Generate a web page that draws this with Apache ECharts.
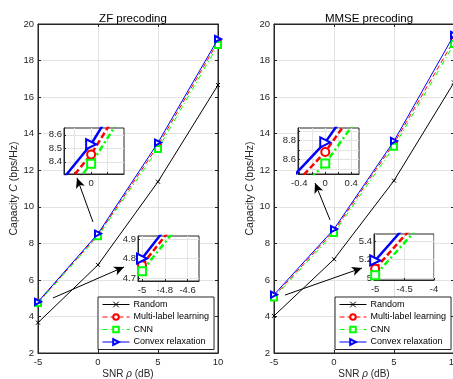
<!DOCTYPE html>
<html>
<head>
<meta charset="utf-8">
<script src="https://cdn.jsdelivr.net/npm/echarts@6/dist/echarts.min.js"></script>
<style>
  html, body { margin: 0; padding: 0; background: #fff; }
  #chart { width: 453px; height: 379px; }
</style>
</head>
<body>
<div id="chart"></div>
<script>
// SNR points (dB)
var snr = [-5, 0, 5, 10];
var seriesNames = ['Random', 'Multi-label learning', 'CNN', 'Convex relaxation'];

// ZF precoding capacity (bps/Hz)
var zfRandom = [3.66, 6.82, 11.37, 16.66];
var zfMulti = [4.766, 8.455, 13.35, 19.03];
var zfCnn = [4.735, 8.385, 13.16, 18.85];
var zfConvex = [4.8, 8.53, 13.51, 19.18];

// MMSE precoding capacity (bps/Hz)
var mmseRandom = [4.03, 7.13, 11.43, 16.8];
var mmseMulti = [5.10, 8.68, 13.47, 19.1];
var mmseCnn = [5.03, 8.56, 13.29, 18.9];
var mmseConvex = [5.19, 8.78, 13.6, 19.4];

// zoom windows: [xmin, xmax, ymin, ymax], tick values, labelled values
var zfZoomA = { range: [-0.33, 0.4, 8.31, 8.65], xt: [-0.2, 0, 0.2], xl: [0], yt: [8.4, 8.5, 8.6], yl: [8.4, 8.5, 8.6] };
var zfZoomB = { range: [-5.035, -4.5, 4.685, 4.915], xt: [-5, -4.8, -4.6], xl: [-5, -4.8, -4.6], yt: [4.7, 4.8, 4.9], yl: [4.7, 4.8, 4.9] };
var mmseZoomA = { range: [-0.42, 0.52, 8.45, 8.93], xt: [-0.4, -0.2, 0, 0.2, 0.4], xl: [-0.4, 0, 0.4], yt: [8.5, 8.6, 8.7, 8.8, 8.9], yl: [8.6, 8.8] };
var mmseZoomB = { range: [-5.02, -4, 4.98, 5.475], xt: [-5, -4.5, -4], xl: [-5, -4.5, -4], yt: [5, 5.2, 5.4], yl: [5, 5.2, 5.4] };

// annotation arrows [x1, y1, x2, y2] in data units
var zfArrows = [[-0.42, 9.17, -1.75, 11.58], [-3.75, 5.01, 2.17, 6.71]];
var mmseArrows = [[-0.33, 9.28, -1.58, 11.3], [-4.08, 5.17, 2.33, 6.65]];

var font = 'Liberation Sans, Arial, sans-serif';
var axisColor = '#262626';
var gridColor = '#e3e3e3';

function pts(vals) {
  return snr.map(function (x, i) { return [x, vals[i]]; });
}

var styles = [
  { color: '#000000', type: 'solid', symbol: 'path://M0,0L10,10M10,0L0,10', rotate: 0 },
  { color: '#ff0000', type: [5, 3], symbol: 'emptyCircle', rotate: 0 },
  { color: '#00ff00', type: [5, 3, 1, 3], symbol: 'emptyRect', rotate: 0 },
  { color: '#0000ff', type: 'solid', symbol: 'emptyTriangle', rotate: -90 }
];

function mainSeries(idx, sets, arrows) {
  return sets.map(function (vals, k) {
    var st = styles[k];
    var s = {
      name: seriesNames[k],
      type: 'line',
      xAxisIndex: idx,
      yAxisIndex: idx,
      data: pts(vals),
      symbol: st.symbol,
      symbolRotate: st.rotate,
      symbolSize: k === 0 ? 4 : 6,
      lineStyle: { color: st.color, width: 1, type: st.type },
      itemStyle: { color: st.color, borderColor: st.color, borderWidth: 1 },
      z: 3 + (k === 3 ? 1 : 0)
    };
    if (k === 0) {
      s.markLine = {
        silent: true,
        symbol: ['none', 'arrow'],
        symbolSize: [7, 10],
        label: { show: false },
        lineStyle: { color: '#000', width: 1, type: 'solid' },
        data: arrows.map(function (a) {
          return [{ coord: [a[0], a[1]] }, { coord: [a[2], a[3]] }];
        })
      };
    }
    return s;
  });
}

function insetSeries(idx, sets) {
  var out = [];
  sets.forEach(function (vals, j) {
    var k = j + 1;
    var st = styles[k];
    var dash = k === 1 ? [6, 3] : (k === 2 ? [6, 3, 2, 3] : 'solid');
    out.push({
      name: seriesNames[k] + ' ',
      type: 'line',
      xAxisIndex: idx,
      yAxisIndex: idx,
      data: pts(vals),
      clip: true,
      symbol: st.symbol,
      symbolRotate: st.rotate,
      symbolSize: k === 3 ? 10 : 8,
      lineStyle: { color: st.color, width: 2.5, type: dash },
      itemStyle: { color: st.color, borderColor: st.color, borderWidth: 2 },
      z: 12
    });
  });
  return out;
}

var mainGrids = [
  { left: 38, right: 235, top: 24, bottom: 26 },
  { left: 274, right: -1, top: 24, bottom: 26 }
];
var insetGrids = [
  { left: 64, top: 128, width: 60, height: 46 },
  { left: 138, top: 236, width: 61, height: 45 },
  { left: 298, top: 128, width: 61, height: 46 },
  { left: 374, top: 234, width: 60, height: 46 }
];
var zooms = [zfZoomA, zfZoomB, mmseZoomA, mmseZoomB];

var grids = [];
mainGrids.forEach(function (g) {
  grids.push(Object.assign({ show: true, borderColor: axisColor, borderWidth: 1, backgroundColor: '#fff',
    containLabel: false, outerBoundsMode: 'none' }, g));
});
insetGrids.forEach(function (g) {
  grids.push(Object.assign({ show: true, borderColor: axisColor, borderWidth: 1, backgroundColor: '#fff', z: 10,
    containLabel: false, outerBoundsMode: 'none' }, g));
});

var labelStyle = { color: axisColor, fontSize: 9.5, fontFamily: font };
var xAxes = [];
var yAxes = [];

[0, 1].forEach(function (i) {
  xAxes.push({
    type: 'value', gridIndex: i, min: -5, max: 10, interval: 5,
    name: '{a|SNR }{i|ρ}{a| (dB)}', nameLocation: 'middle', nameGap: 16, nameMoveOverlap: false,
    nameTextStyle: { rich: {
      a: { fontSize: 10, color: axisColor, fontFamily: font },
      i: { fontSize: 10, color: axisColor, fontFamily: font, fontStyle: 'italic' }
    } },
    axisLine: { onZero: false, lineStyle: { color: axisColor } },
    axisTick: { inside: true, length: 3, lineStyle: { color: axisColor } },
    axisLabel: Object.assign({ margin: 4 }, labelStyle),
    splitLine: { show: true, lineStyle: { color: gridColor } }
  });
  yAxes.push({
    type: 'value', gridIndex: i, min: 2, max: 20, interval: 2,
    name: '{a|Capacity }{i|C}{a| (bps/Hz)}', nameLocation: 'middle', nameGap: 18, nameMoveOverlap: false,
    nameTextStyle: { rich: {
      a: { fontSize: 10.5, color: axisColor, fontFamily: font },
      i: { fontSize: 10.5, color: axisColor, fontFamily: font, fontStyle: 'italic' }
    } },
    axisLine: { onZero: false, lineStyle: { color: axisColor } },
    axisTick: { inside: true, length: 3, lineStyle: { color: axisColor } },
    axisLabel: Object.assign({ margin: 4 }, labelStyle),
    splitLine: { show: true, lineStyle: { color: gridColor } }
  });
});

zooms.forEach(function (zm, j) {
  var gi = j + 2;
  xAxes.push({
    type: 'value', gridIndex: gi, min: zm.range[0], max: zm.range[1], z: 11,
    axisLine: { onZero: false, lineStyle: { color: axisColor } },
    axisTick: { inside: true, length: 2, customValues: zm.xt, lineStyle: { color: axisColor } },
    axisLabel: Object.assign({ margin: 4, customValues: zm.xl }, labelStyle),
    splitLine: { show: true, lineStyle: { color: gridColor } }
  });
  yAxes.push({
    type: 'value', gridIndex: gi, min: zm.range[2], max: zm.range[3], z: 11,
    axisLine: { onZero: false, lineStyle: { color: axisColor } },
    axisTick: { inside: true, length: 2, customValues: zm.yt, lineStyle: { color: axisColor } },
    axisLabel: Object.assign({ margin: 2, customValues: zm.yl }, labelStyle),
    splitLine: { show: true, lineStyle: { color: gridColor } }
  });
});

// mirrored ticks on top / right of the main plots
[0, 1].forEach(function (i) {
  xAxes.push({
    type: 'value', gridIndex: i, position: 'top', min: -5, max: 10, interval: 5,
    axisLine: { onZero: false, lineStyle: { color: axisColor } },
    axisTick: { inside: true, length: 3, lineStyle: { color: axisColor } },
    axisLabel: { show: false }, splitLine: { show: false }
  });
  yAxes.push({
    type: 'value', gridIndex: i, position: 'right', min: 2, max: 20, interval: 2,
    axisLine: { onZero: false, lineStyle: { color: axisColor } },
    axisTick: { inside: true, length: 3, lineStyle: { color: axisColor } },
    axisLabel: { show: false }, splitLine: { show: false }
  });
});

var series = []
  .concat(mainSeries(0, [zfRandom, zfMulti, zfCnn, zfConvex], zfArrows))
  .concat(mainSeries(1, [mmseRandom, mmseMulti, mmseCnn, mmseConvex], mmseArrows))
  .concat(insetSeries(2, [zfMulti, zfCnn, zfConvex]))
  .concat(insetSeries(3, [zfMulti, zfCnn, zfConvex]))
  .concat(insetSeries(4, [mmseMulti, mmseCnn, mmseConvex]))
  .concat(insetSeries(5, [mmseMulti, mmseCnn, mmseConvex]));

function makeLegend(left) {
  return {
    data: seriesNames,
    orient: 'vertical',
    left: left,
    top: 297,
    itemWidth: 27,
    itemHeight: 7,
    itemGap: 3.5,
    padding: [3, 5, 3, 4],
    backgroundColor: '#fff',
    borderColor: axisColor,
    borderWidth: 1,
    borderRadius: 0,
    selectedMode: false,
    itemStyle: { borderWidth: 1 },
    lineStyle: { width: 1 },
    textStyle: { fontSize: 9, color: '#000', fontFamily: font, padding: [0, 0, 0, -1] }
  };
}

var myChart = echarts.init(document.getElementById('chart'), null, { renderer: 'canvas' });
myChart.setOption({
  animation: false,
  textStyle: { fontFamily: font },
  title: [
    { text: 'ZF precoding', left: 128, top: 8, textAlign: 'center',
      textStyle: { fontSize: 11.5, fontWeight: 'normal', color: '#000', fontFamily: font } },
    { text: 'MMSE precoding', left: 364, top: 8, textAlign: 'center',
      textStyle: { fontSize: 11.5, fontWeight: 'normal', color: '#000', fontFamily: font } }
  ],
  legend: [makeLegend(98), makeLegend(335)],
  grid: grids,
  xAxis: xAxes,
  yAxis: yAxes,
  series: series
});
</script>
</body>
</html>
